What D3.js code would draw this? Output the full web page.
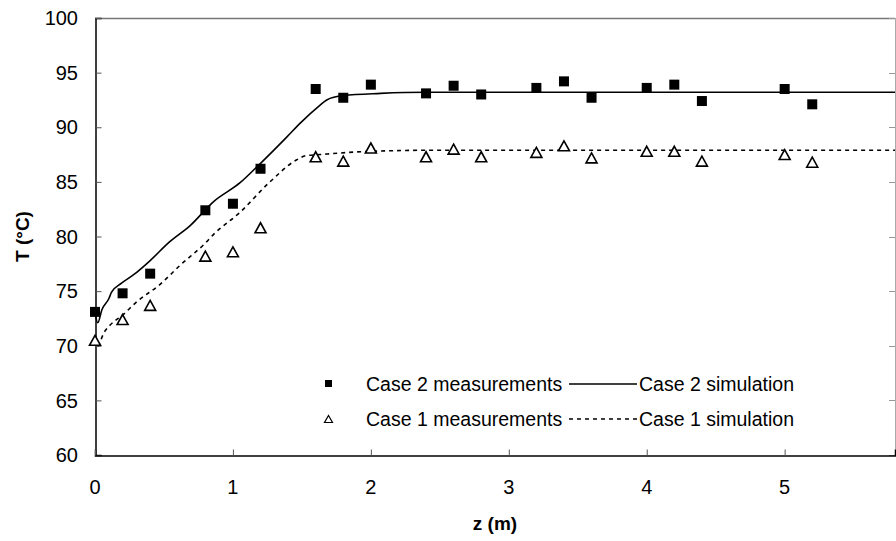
<!DOCTYPE html>
<html>
<head>
<meta charset="utf-8">
<script src="https://cdn.jsdelivr.net/npm/d3@7"></script>
<style>
  body { margin: 0; background: #fff; }
  text { font-family: "Liberation Sans", Arial, sans-serif; fill: #000; }
</style>
</head>
<body>
<script>
// measurement positions along z (m)
var zMeas = [0, 0.2, 0.4, 0.8, 1.0, 1.2, 1.6, 1.8, 2.0, 2.4, 2.6, 2.8, 3.2, 3.4, 3.6, 4.0, 4.2, 4.4, 5.0, 5.2];
var case2Meas = [73.1, 74.8, 76.6, 82.4, 83.0, 86.2, 93.5, 92.7, 93.9, 93.1, 93.8, 93.0, 93.6, 94.2, 92.7, 93.6, 93.9, 92.4, 93.5, 92.1];
var case1Meas = [70.5, 72.4, 73.7, 78.2, 78.6, 80.8, 87.3, 86.9, 88.1, 87.3, 88.0, 87.3, 87.7, 88.3, 87.2, 87.8, 87.8, 86.9, 87.5, 86.8];

// simulation curves
var zSim2 = [0, 0.02, 0.05, 0.1, 0.12, 0.19, 0.28, 0.4, 0.54, 0.69, 0.86, 1.05, 1.2, 1.39, 1.49, 1.63, 1.68, 1.8, 2.07, 2.4, 3, 4, 5, 5.8];
var case2Sim = [73.0, 72.1, 73.3, 74.3, 74.9, 75.7, 76.5, 77.8, 79.5, 81.0, 83.2, 84.9, 86.7, 89.1, 90.4, 92.0, 92.5, 92.9, 93.1, 93.2, 93.2, 93.2, 93.2, 93.2];
var zSim1 = [0, 0.012, 0.07, 0.11, 0.2, 0.3, 0.47, 0.62, 0.8, 0.86, 1.05, 1.26, 1.46, 1.53, 1.63, 2.0, 2.5, 3, 4, 5, 5.8];
var case1Sim = [70.5, 69.9, 71.3, 71.9, 72.8, 74.0, 75.6, 77.4, 79.4, 80.2, 82.2, 84.9, 87.0, 87.4, 87.5, 87.8, 87.9, 87.9, 87.9, 87.9, 87.9];

var xTicks = [0, 1, 2, 3, 4, 5];
var yTicks = [60, 65, 70, 75, 80, 85, 90, 95, 100];

var WIDTH = 896, HEIGHT = 541;
var L = 95, R = 895, T = 18, B = 455;

var svg = d3.select("body").append("svg")
    .attr("width", WIDTH)
    .attr("height", HEIGHT);

var x = d3.scaleLinear().domain([0, 5.8]).range([L, R]);
var y = d3.scaleLinear().domain([60, 100]).range([B, T]);

// top + right frame in gray
svg.append("line").attr("x1", L).attr("x2", R).attr("y1", T + 0.5).attr("y2", T + 0.5)
  .attr("stroke", "#777").attr("stroke-width", 1.5);
svg.append("line").attr("x1", R + 0.5).attr("x2", R + 0.5).attr("y1", T).attr("y2", B)
  .attr("stroke", "#aaa").attr("stroke-width", 1);
// right inner ticks
svg.selectAll(".rtick").data(yTicks).enter().append("line")
  .attr("x1", R - 6).attr("x2", R)
  .attr("y1", d => Math.round(y(d)) + 0.5).attr("y2", d => Math.round(y(d)) + 0.5)
  .attr("stroke", "#999").attr("stroke-width", 1);

// left axis, ticks inside
var yAxis = svg.append("g").attr("transform", "translate(" + (L + 0.5) + ",0)")
  .call(d3.axisRight(y).tickValues(yTicks).tickSize(6).tickFormat(""));
yAxis.select(".domain").attr("stroke", "#000").attr("stroke-width", 1.5);
yAxis.selectAll(".tick line").attr("stroke", "#555");
svg.selectAll(".ylab").data(yTicks).enter().append("text")
  .attr("x", 78).attr("y", d => y(d)).attr("dy", "0.36em")
  .attr("text-anchor", "end").style("font-size", "20px")
  .text(d => d);

// bottom axis, ticks inside
var xAxis = svg.append("g").attr("transform", "translate(0," + (B + 0.5) + ")")
  .call(d3.axisTop(x).tickValues(xTicks).tickSize(6).tickFormat(""));
xAxis.select(".domain").attr("stroke", "#000").attr("stroke-width", 1.5);
xAxis.selectAll(".tick line").attr("stroke", "#555");
svg.selectAll(".xlab").data(xTicks).enter().append("text")
  .attr("x", d => x(d)).attr("y", 494)
  .attr("text-anchor", "middle").style("font-size", "20px")
  .text(d => d);

// axis titles
svg.append("text").attr("x", (L + R) / 2).attr("y", 530)
  .attr("text-anchor", "middle").style("font-size", "19px").style("font-weight", "bold")
  .text("z (m)");
svg.append("text").attr("transform", "translate(29," + ((T + B) / 2) + ") rotate(-90)")
  .attr("text-anchor", "middle").style("font-size", "19px").style("font-weight", "bold")
  .text("T (°C)");

// simulation lines
var line = d3.line().x(d => x(d[0])).y(d => y(d[1])).curve(d3.curveMonotoneX);
svg.append("path").datum(d3.zip(zSim2, case2Sim))
  .attr("d", line).attr("fill", "none").attr("stroke", "#000").attr("stroke-width", 1.6);
svg.append("path").datum(d3.zip(zSim1, case1Sim))
  .attr("d", line).attr("fill", "none").attr("stroke", "#000").attr("stroke-width", 1.6)
  .attr("stroke-dasharray", "4,4");

// markers
function tri(w, h) {
  return "M0," + (-h / 2) + "L" + (w / 2) + "," + (h / 2) + "L" + (-w / 2) + "," + (h / 2) + "Z";
}
svg.selectAll(".sq").data(d3.zip(zMeas, case2Meas)).enter().append("rect")
  .attr("x", d => x(d[0]) - 5).attr("y", d => y(d[1]) - 5)
  .attr("width", 10).attr("height", 10).attr("fill", "#000");
svg.selectAll(".tri").data(d3.zip(zMeas, case1Meas)).enter().append("path")
  .attr("transform", d => "translate(" + x(d[0]) + "," + y(d[1]) + ")")
  .attr("d", tri(11, 10)).attr("fill", "#fff").attr("stroke", "#000").attr("stroke-width", 1.6);

// legend
var leg = svg.append("g");
leg.append("rect").attr("x", 325).attr("y", 380).attr("width", 7).attr("height", 7).attr("fill", "#000");
leg.append("path").attr("transform", "translate(328.5,419)").attr("d", tri(8, 7))
  .attr("fill", "#fff").attr("stroke", "#000").attr("stroke-width", 1.2);
leg.append("text").attr("x", 366).attr("y", 383.5).attr("dy", "0.36em").style("font-size", "19.5px").text("Case 2 measurements");
leg.append("text").attr("x", 366).attr("y", 418.5).attr("dy", "0.36em").style("font-size", "19.5px").text("Case 1 measurements");
leg.append("line").attr("x1", 569).attr("x2", 637).attr("y1", 384).attr("y2", 384)
  .attr("stroke", "#000").attr("stroke-width", 1.3);
leg.append("line").attr("x1", 569).attr("x2", 637).attr("y1", 419).attr("y2", 419)
  .attr("stroke", "#000").attr("stroke-width", 1.3).attr("stroke-dasharray", "4,4");
leg.append("text").attr("x", 639).attr("y", 383.5).attr("dy", "0.36em").style("font-size", "19.5px").text("Case 2 simulation");
leg.append("text").attr("x", 639).attr("y", 418.5).attr("dy", "0.36em").style("font-size", "19.5px").text("Case 1 simulation");
</script>
</body>
</html>
